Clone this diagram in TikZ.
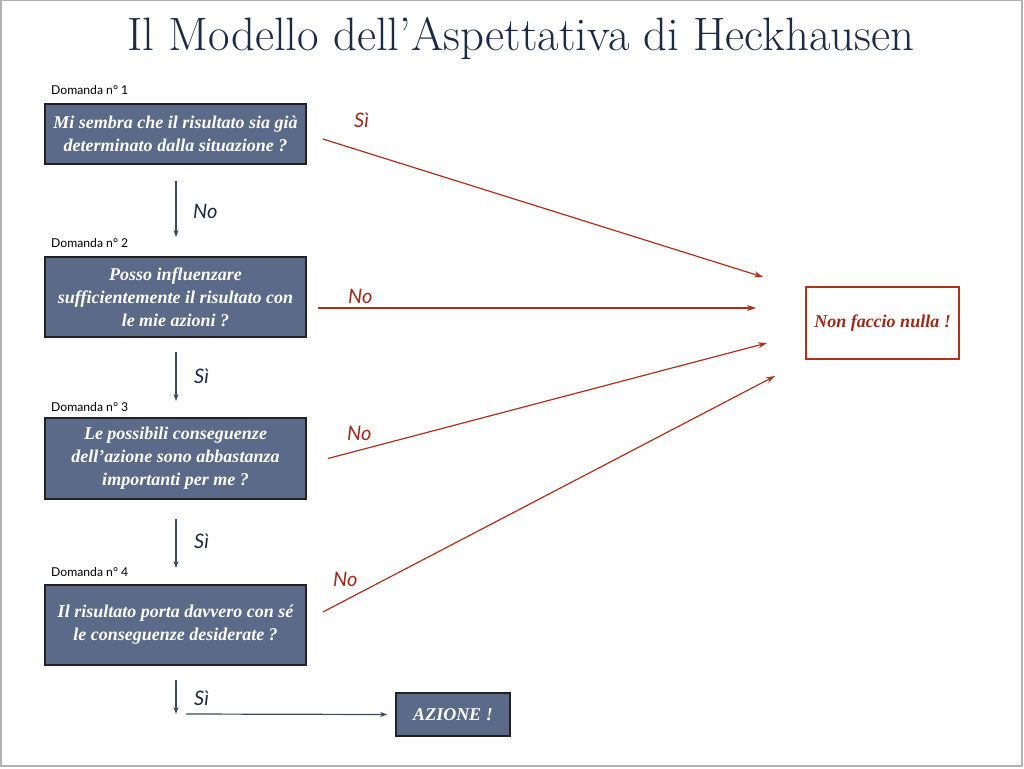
\documentclass[tikz,border=0pt]{standalone}
\usepackage{fontspec}
\usetikzlibrary{arrows.meta,calc}
\setmainfont{Latin Modern Roman}
\newfontfamily\boxfont{Liberation Serif}
\newfontfamily\labfont{Lato}
\definecolor{slate}{HTML}{5B6A89}
\definecolor{boxedge}{HTML}{202224}
\definecolor{navy}{HTML}{1C2B45}
\definecolor{arrowblue}{HTML}{3C4A5E}
\definecolor{redline}{HTML}{B0301C}
\definecolor{redtext}{HTML}{A02818}
\begin{document}
\begin{tikzpicture}[x=1pt,y=-1pt,
  qbox/.style={draw=boxedge, line width=1.8pt, fill=slate, text=white,
    font=\boxfont\bfseries\itshape\fontsize{18}{23}\selectfont, align=center,
    minimum width=261pt, inner sep=2pt},
  dlabel/.style={anchor=west, font=\labfont\fontsize{12.2}{14}\selectfont, text=black, inner sep=0pt},
  yn/.style={font=\labfont\itshape\fontsize{20}{22}\selectfont, inner sep=0pt, anchor=west},
  varrow/.style={draw=arrowblue, line width=1.2pt, -{Stealth[length=7pt,width=5pt]}},
  rarrow/.style={draw=redline, line width=1.2pt, -{Stealth[length=9pt,width=6pt]}}
]
\useasboundingbox (0,0) rectangle (1024,768);
\fill[white] (0,0) rectangle (1024,768);
\draw[gray!60, line width=1.5pt] (0.75,0.75) rectangle (1022,766);

% title
\node[text=navy, inner sep=0pt] (title) at (521,39)
  {\resizebox{787pt}{!}{\fontsize{40}{44}\selectfont Il Modello dell’Aspettativa di Heckhausen}};

% question boxes
\node[qbox, minimum height=60pt] (q1) at (175.5,134)
  {Mi sembra che il risultato sia già\\determinato dalla situazione ?};
\node[qbox, minimum height=80pt] (q2) at (175.5,297)
  {Posso influenzare\\sufficientemente il risultato con\\le mie azioni ?};
\node[qbox, minimum height=81pt] (q3) at (175.5,458.5)
  {Le possibili conseguenze\\dell’azione sono abbastanza\\importanti per me ?};
\node[qbox, minimum height=80pt] (q4) at (175.5,625)
  {Il risultato porta davvero con sé\\le conseguenze desiderate ?};
\node[qbox, minimum width=114pt, minimum height=43pt] (az) at (453,714.5) {AZIONE !};
\node[draw=redline, line width=1.5pt, fill=white, text=redtext,
  font=\boxfont\bfseries\itshape\fontsize{18}{20}\selectfont,
  minimum width=153pt, minimum height=72pt] (nf) at (882.5,323) {Non faccio nulla !};

% domanda labels
\node[dlabel] (d1) at (51,90) {Domanda n° 1};
\node[dlabel] (d2) at (51,243) {Domanda n° 2};
\node[dlabel] (d3) at (51,407) {Domanda n° 3};
\node[dlabel] (d4) at (51,572) {Domanda n° 4};

% vertical arrows
\coordinate (c4) at (176,714);
\draw[varrow] ($(q1.south)+(0.5,16)$) -- ($(q2.north)+(0.5,-19)$);
\draw[varrow] ($(q2.south)+(0.5,14)$) -- ($(q3.north)+(0.5,-16)$);
\draw[varrow] ($(q3.south)+(0.5,19)$) -- ($(q4.north)+(0.5,-16)$);
\draw[varrow] ($(q4.south)+(0.5,14)$) -- (c4);
\draw[varrow] ($(c4)+(10,0)$) -- ($(az.west)+(-8,0)$);

\node[yn, text=navy] (l1) at (193,211) {No};
\node[yn, text=navy] (l2) at (194,376) {Sì};
\node[yn, text=navy] (l3) at (194,541) {Sì};
\node[yn, text=navy] (l4) at (194,698) {Sì};

% red arrows
\coordinate (e1) at (763,277);
\coordinate (e2) at (756,308);
\coordinate (e3) at (767,343);
\coordinate (e4) at (775,376);
\draw[rarrow] ($(q1.east)+(16,5)$) -- (e1);
\draw[rarrow] ($(q2.east)+(11,11)$) -- (e2);
\draw[rarrow] ($(q3.east)+(21,0)$) -- (e3);
\draw[rarrow] ($(q4.east)+(16,-13)$) -- (e4);

\node[yn, text=redtext] (r1) at (354,120) {Sì};
\node[yn, text=redtext] (r2) at (348,296) {No};
\node[yn, text=redtext] (r3) at (347,433) {No};
\node[yn, text=redtext] (r4) at (333,579) {No};
\end{tikzpicture}
\end{document}
